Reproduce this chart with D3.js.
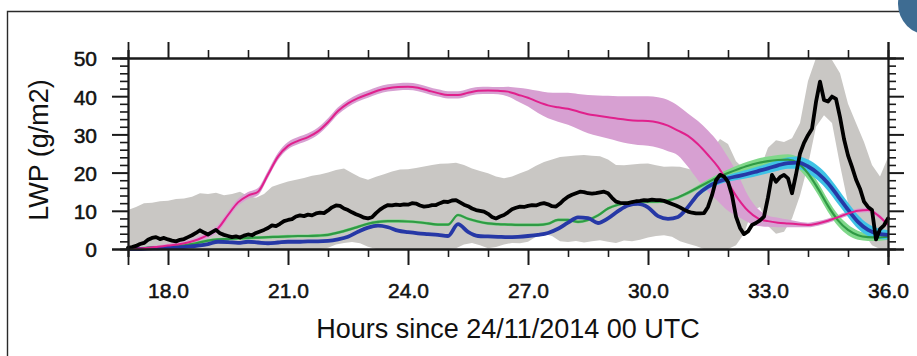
<!DOCTYPE html>
<html>
<head>
<meta charset="utf-8">
<script src="https://cdn.jsdelivr.net/npm/d3@7"></script>
<style>
  html, body { margin: 0; padding: 0; background: #fff; }
  svg { display: block; }
  text { font-family: "Liberation Sans", Arial, Helvetica, sans-serif; fill: #111; }
</style>
</head>
<body>
<svg id="chart" width="917" height="356"></svg>
<script>
// Time axis: hours since 24/11/2014 00 UTC
const hourStart = 17;
const obsStep = 0.1;    // observed LWP sampling (h)
const rangeStep = 0.2;  // observed range sampling (h)
const modelStep = 0.25; // model output sampling (h)

const xMajorTicks = [18, 21, 24, 27, 30, 33, 36];
const xTickLabels = ["18.0", "21.0", "24.0", "27.0", "30.0", "33.0", "36.0"];
const xMinorTicks = [17, 19, 20, 22, 23, 25, 26, 28, 29, 31, 32, 34, 35];
const yMajorTicks = [0, 10, 20, 30, 40, 50];
const yTickLabels = ["0", "10", "20", "30", "40", "50"];
const yMinorTicks = [2, 4, 6, 8, 12, 14, 16, 18, 22, 24, 26, 28, 32, 34, 36, 38, 42, 44, 46, 48];

// Observed LWP (g/m2), every 0.1 h from 17.0 to 36.0
const obsLWP = [
  0.3,0.5,0.8,1.3,1.6,2.4,2.9,3.1,2.6,2.9,
  2.5,2.2,2.0,2.4,2.6,3.1,3.6,4.2,4.9,4.3,
  3.8,4.4,5.0,4.1,3.7,3.4,3.1,3.3,3.0,3.5,
  3.8,3.6,4.2,4.6,5.0,5.5,6.2,6.0,6.6,7.3,
  7.6,7.8,8.5,8.8,8.6,9.0,8.8,9.3,9.5,9.4,
  10.1,10.9,11.4,11.3,10.6,10.2,9.6,9.1,8.7,8.2,
  8.0,8.3,9.4,10.3,11.0,11.5,11.4,11.6,11.5,11.7,
  11.6,12.0,11.9,11.4,11.1,11.2,11.5,11.5,12.0,12.4,
  12.3,12.7,12.8,12.2,11.6,11.2,10.6,10.2,10.0,9.8,
  9.2,8.4,8.0,8.5,8.9,9.6,10.4,10.8,11.1,11.0,
  11.3,11.5,11.4,11.8,12.0,11.7,11.2,11.1,11.9,12.9,
  13.7,14.2,14.6,15.0,14.9,14.6,14.5,14.6,14.8,15.0,
  14.6,13.4,12.4,12.1,12.0,12.0,12.3,12.5,12.6,12.8,
  12.7,12.9,12.8,12.8,12.6,12.2,11.8,11.4,10.9,10.3,
  9.8,9.5,9.3,9.3,9.4,11.0,14.1,18.0,19.4,19.0,
  17.6,14.1,8.5,5.5,3.9,4.6,6.3,6.8,7.5,8.5,
  13.5,19.4,17.6,18.8,19.4,18.5,14.6,19.5,25.0,27.8,
  29.8,31.5,38.5,43.8,39.0,38.6,39.9,39.3,34.5,28.8,
  24.5,21.5,18.2,15.8,12.4,11.0,10.2,2.5,5.2,6.2,
  8.0
];

// Observed range (g/m2), every 0.2 h from 17.0 to 36.0
const obsRangeHi = [
  10.2,11.0,12.0,12.1,12.5,
  12.6,13.1,13.2,13.7,14.6,
  14.4,14.7,14.1,14.4,15.0,
  13.9,13.4,14.4,16.3,17.0,
  17.7,18.1,18.6,19.2,19.5,
  20.0,20.7,21.1,19.9,18.8,
  18.1,18.9,19.6,20.3,20.8,
  20.9,21.2,21.6,22.0,22.3,
  22.4,22.6,22.0,21.1,20.4,
  19.8,19.0,18.5,19.0,19.8,
  20.6,21.8,22.8,23.4,24.1,
  24.3,24.5,24.6,24.4,24.3,
  23.4,22.0,21.9,22.1,22.3,
  22.4,21.9,21.5,21.6,21.5,
  21.0,20.4,21.5,26.0,28.8,
  27.5,23.0,21.0,20.5,20.8,
  26.5,28.5,28.0,29.0,33.0,
  44.0,50.0,50.0,49.5,46.0,
  38.0,33.0,28.0,22.0,19.0,
  24.0
];
const obsRangeLo = [
  0,0,0,0,0,
  0,0,0,0,0,
  0,0,0,0,0,
  0,0,0,0,0,
  0,0,0,0,0,
  0.3,1.2,1.6,1.8,1.5,
  0.6,0,0,0,0,
  0,0,0,0,0,
  0,0.2,1.2,1.6,1.0,
  0.2,0.5,1.2,1.6,1.5,
  1.9,3.2,4.0,3.4,2.0,
  1.8,2.1,1.7,2.0,2.3,
  1.9,1.6,2.2,2.0,2.4,
  3.0,3.4,3.6,3.2,2.0,
  1.4,0.8,0,0,0,
  0,1.0,4.0,10.0,11.0,
  6.0,4.0,4.5,8.0,14.0,
  22.0,32.0,35.0,33.0,22.0,
  12.0,8.0,4.0,1.0,0,
  0
];

// Simulation 1 (magenta): ensemble mean and range, every 0.25 h
const sim1Mean = [
  0.0,0.1,0.3,0.6, 0.9,1.2,1.7,2.5, 3.7,5.4,8.9,12.2, 14.0,15.0,19.5,24.2,
  27.0,28.3,29.3,30.8, 33.2,36.1,38.1,39.5, 40.5,41.5,42.1,42.4, 42.5,42.2,41.5,40.8,
  40.3,40.3,40.9,41.4, 41.5,41.4,41.2,40.4, 39.6,38.5,37.6,37.1, 36.7,36.0,35.3,34.9,
  34.5,34.1,33.8,33.6, 33.5,33.1,32.3,31.0, 29.6,27.4,24.6,21.5, 17.3,13.2,10.0,8.0,
  7.3,6.9,6.7,6.5, 6.3,6.7,7.4,8.3, 9.3,10.0,10.2,8.8,
  6.3
];
const sim1Hi = [
  0.4,0.5,0.7,1.0, 1.4,1.7,2.3,3.2, 4.5,6.3,9.8,13.1, 14.9,16.0,20.5,25.2,
  28.0,29.3,30.3,31.8, 34.2,37.1,39.1,40.5, 41.5,42.5,43.1,43.4, 43.5,43.2,42.5,41.8,
  41.3,41.3,41.9,42.4, 42.5,42.4,42.5,42.2, 41.9,41.4,41.0,40.9, 40.9,40.6,40.3,40.2,
  40.1,40.0,40.0,40.0, 40.0,39.7,39.0,37.5, 35.5,33.5,31.0,28.0, 24.0,19.5,14.0,10.5,
  8.8,8.2,7.7,7.2, 6.9,7.3,8.0,8.9, 9.9,10.6,10.8,9.4,
  6.9
];
const sim1Lo = [
  0,0,0,0, 0.4,0.6,1.1,1.8, 2.8,4.5,8.0,11.3, 13.1,14.1,18.6,23.3,
  26.1,27.4,28.4,29.9, 32.3,35.2,37.2,38.6, 39.6,40.6,41.2,41.5, 41.6,41.3,40.6,39.9,
  39.4,39.4,40.0,40.5, 40.6,40.5,39.9,38.6, 37.3,35.6,34.2,33.3, 32.5,31.4,30.3,29.6,
  28.9,28.2,27.6,27.2, 27.0,26.5,25.6,24.5, 21.5,18.0,15.0,12.5, 10.0,8.5,7.0,6.0,
  5.8,5.7,5.7,5.7, 5.7,6.1,6.8,7.7, 8.7,9.4,9.6,8.2,
  5.7
];

// Simulation 2 (green): ensemble mean and half-spread, every 0.25 h
const sim2Mean = [
  0.0,0.1,0.3,0.4, 0.6,0.8,1.1,1.6, 2.2,2.5,2.6,2.8, 2.9,3.0,3.1,3.2,
  3.3,3.4,3.4,3.5, 3.7,4.3,5.0,5.8, 6.6,7.1,7.3,7.3, 7.2,7.0,6.7,6.4,
  6.4,8.9,7.9,7.2, 6.7,6.5,6.4,6.3, 6.3,6.3,6.6,7.6, 7.6,7.1,7.6,8.8,
  10.6,11.6,12.1,12.3, 12.4,12.4,12.7,13.5, 14.7,16.1,17.5,18.8, 19.9,20.9,21.8,22.5,
  23.0,23.3,23.4,22.5, 19.8,15.8,11.3,7.5, 5.0,3.6,3.1,3.0,
  3.2
];
const sim2Spread = [
  0.4,0.4,0.4,0.4, 0.4,0.4,0.4,0.4, 0.4,0.4,0.4,0.4, 0.4,0.4,0.4,0.4,
  0.4,0.4,0.4,0.4, 0.4,0.4,0.4,0.4, 0.4,0.4,0.4,0.4, 0.4,0.4,0.4,0.4,
  0.4,0.4,0.4,0.4, 0.4,0.4,0.4,0.4, 0.4,0.4,0.4,0.4, 0.4,0.4,0.4,0.4,
  0.4,0.4,0.4,0.4, 0.4,0.4,0.4,0.4, 0.5,0.6,0.7,0.8, 0.9,1.0,1.1,1.2,
  1.2,1.3,1.4,1.5, 1.6,1.6,1.6,1.5, 1.4,1.2,1.0,0.9,
  0.8
];

// Simulation 3 (blue): ensemble mean and half-spread, every 0.25 h
const sim3Mean = [
  0.0,0.0,0.1,0.2, 0.3,0.4,0.6,0.9, 1.3,1.9,1.8,1.6, 1.9,1.7,1.5,1.7,
  1.9,1.9,2.0,2.0, 2.1,2.5,3.2,4.5, 5.6,6.1,5.7,4.8, 4.4,4.1,3.9,3.7,
  3.4,6.5,4.5,3.4, 3.3,3.2,3.1,3.2, 3.4,3.7,4.2,5.3, 6.9,8.3,8.1,6.8,
  8.0,9.9,11.4,11.8, 10.9,8.6,7.9,8.4, 11.0,14.3,16.3,17.6, 18.5,19.1,19.7,20.4,
  21.1,21.9,22.5,22.6, 21.6,19.8,17.2,13.8, 10.3,7.1,5.0,4.0,
  3.7
];
const sim3Spread = [
  0.3,0.3,0.3,0.3, 0.3,0.3,0.3,0.3, 0.3,0.3,0.3,0.3, 0.3,0.3,0.3,0.3,
  0.3,0.3,0.3,0.3, 0.3,0.3,0.3,0.3, 0.3,0.3,0.3,0.3, 0.3,0.3,0.3,0.3,
  0.3,0.3,0.3,0.3, 0.3,0.3,0.3,0.3, 0.3,0.3,0.3,0.3, 0.3,0.3,0.3,0.3,
  0.3,0.3,0.3,0.3, 0.3,0.3,0.3,0.3, 0.5,0.6,0.7,0.8, 0.9,1.0,1.1,1.2,
  1.3,1.4,1.5,1.6, 1.8,1.9,2.0,2.0, 1.9,1.8,1.6,1.4,
  1.2
];

const svg = d3.select("#chart");

// Outer panel frame and panel badge
svg.append("path")
  .attr("d", "M7.5,356 V11.5 H901")
  .attr("fill", "none").attr("stroke", "#2a2a2a").attr("stroke-width", 1.4);
svg.append("circle")
  .attr("cx", 929).attr("cy", 4).attr("r", 31)
  .attr("fill", "#3e6c92");

const plot = { left: 128, right: 888, top: 58, bottom: 249 };
const x = d3.scaleLinear().domain([17, 36]).range([plot.left, plot.right]);
const y = d3.scaleLinear().domain([0, 50]).range([plot.bottom, plot.top]);

const g = svg.append("g");

const tObs = (d, i) => x(hourStart + i * obsStep);
const tRange = (d, i) => x(hourStart + i * rangeStep);
const tModel = (d, i) => x(hourStart + i * modelStep);

// Observed range band
g.append("path")
  .datum(obsRangeHi)
  .attr("fill", "#c9c7c4")
  .attr("d", d3.area()
    .x(tRange)
    .y0((d, i) => y(obsRangeLo[i]))
    .y1(d => y(d))
    .curve(d3.curveLinear));

// Simulation 1 range band
g.append("path")
  .datum(sim1Hi)
  .attr("fill", "#d7a0d2")
  .attr("d", d3.area()
    .x(tModel)
    .y0((d, i) => y(sim1Lo[i]))
    .y1(d => y(d))
    .curve(d3.curveMonotoneX));

// Simulation 2 band
g.append("path")
  .datum(sim2Mean)
  .attr("fill", "#80d88a")
  .attr("d", d3.area()
    .x(tModel)
    .y0((d, i) => y(Math.max(0, d - sim2Spread[i])))
    .y1((d, i) => y(d + sim2Spread[i]))
    .curve(d3.curveMonotoneX));

// Simulation 3 band
g.append("path")
  .datum(sim3Mean)
  .attr("fill", "#3fc3e6")
  .attr("d", d3.area()
    .x(tModel)
    .y0((d, i) => y(Math.max(0, d - sim3Spread[i])))
    .y1((d, i) => y(d + sim3Spread[i]))
    .curve(d3.curveMonotoneX));

const modelLine = d3.line().x(tModel).y(d => y(d)).curve(d3.curveMonotoneX);

g.append("path").datum(sim2Mean)
  .attr("fill", "none").attr("stroke", "#2f9a45").attr("stroke-width", 2.2)
  .attr("d", modelLine);

g.append("path").datum(sim3Mean)
  .attr("fill", "none").attr("stroke", "#2638a6").attr("stroke-width", 3.8)
  .attr("d", modelLine);

g.append("path").datum(sim1Mean)
  .attr("fill", "none").attr("stroke", "#e0208c").attr("stroke-width", 2)
  .attr("d", modelLine);

// Observed LWP
g.append("path").datum(obsLWP)
  .attr("fill", "none").attr("stroke", "#000").attr("stroke-width", 3.8)
  .attr("stroke-linejoin", "round").attr("stroke-linecap", "round")
  .attr("d", d3.line().x(tObs).y(d => y(d)).curve(d3.curveLinear));

// Axes: outward ticks on all four sides
const axisColor = "#1a1a1a";
function styleAxis(sel, width) {
  sel.select(".domain").attr("stroke", axisColor).attr("stroke-width", 1.8);
  sel.selectAll(".tick line").attr("stroke", axisColor).attr("stroke-width", width);
  sel.selectAll("text")
    .attr("font-size", 21)
    .attr("font-family", "'Liberation Sans', Arial, Helvetica, sans-serif")
    .style("fill", "#111")
    .style("stroke", "#111").style("stroke-width", 0.5);
}

// bottom
const bx = svg.append("g").attr("transform", `translate(0,${plot.bottom})`);
bx.append("g").call(d3.axisBottom(x).tickValues(xMinorTicks).tickSize(8).tickFormat(""))
  .call(s => styleAxis(s, 1.6));
bx.append("g").call(d3.axisBottom(x).tickValues(xMajorTicks).tickSize(16).tickPadding(18)
  .tickFormat((d, i) => xTickLabels[i]))
  .call(s => styleAxis(s, 2));

// top
const tx = svg.append("g").attr("transform", `translate(0,${plot.top})`);
tx.append("g").call(d3.axisTop(x).tickValues(xMinorTicks).tickSize(8).tickFormat(""))
  .call(s => styleAxis(s, 1.6));
tx.append("g").call(d3.axisTop(x).tickValues(xMajorTicks).tickSize(16).tickFormat(""))
  .call(s => styleAxis(s, 2));

// left
const ly = svg.append("g").attr("transform", `translate(${plot.left},0)`);
ly.append("g").call(d3.axisLeft(y).tickValues(yMinorTicks).tickSize(8).tickFormat(""))
  .call(s => styleAxis(s, 1.6));
ly.append("g").call(d3.axisLeft(y).tickValues(yMajorTicks).tickSize(16).tickPadding(15)
  .tickFormat((d, i) => yTickLabels[i]))
  .call(s => styleAxis(s, 2))
  .call(s => s.selectAll("text").attr("dy", "0.38em"));

// right
const ry = svg.append("g").attr("transform", `translate(${plot.right},0)`);
ry.append("g").call(d3.axisRight(y).tickValues(yMinorTicks).tickSize(8).tickFormat(""))
  .call(s => styleAxis(s, 1.6));
ry.append("g").call(d3.axisRight(y).tickValues(yMajorTicks).tickSize(16).tickFormat(""))
  .call(s => styleAxis(s, 2));

// Axis titles
svg.append("text")
  .attr("x", (plot.left + plot.right) / 2).attr("y", 338)
  .attr("text-anchor", "middle").attr("font-size", 27)
  .text("Hours since 24/11/2014 00 UTC");

svg.append("text")
  .attr("transform", "translate(48,150) rotate(-90)")
  .attr("text-anchor", "middle").attr("font-size", 27)
  .text("LWP (g/m2)");
</script>
</body>
</html>
